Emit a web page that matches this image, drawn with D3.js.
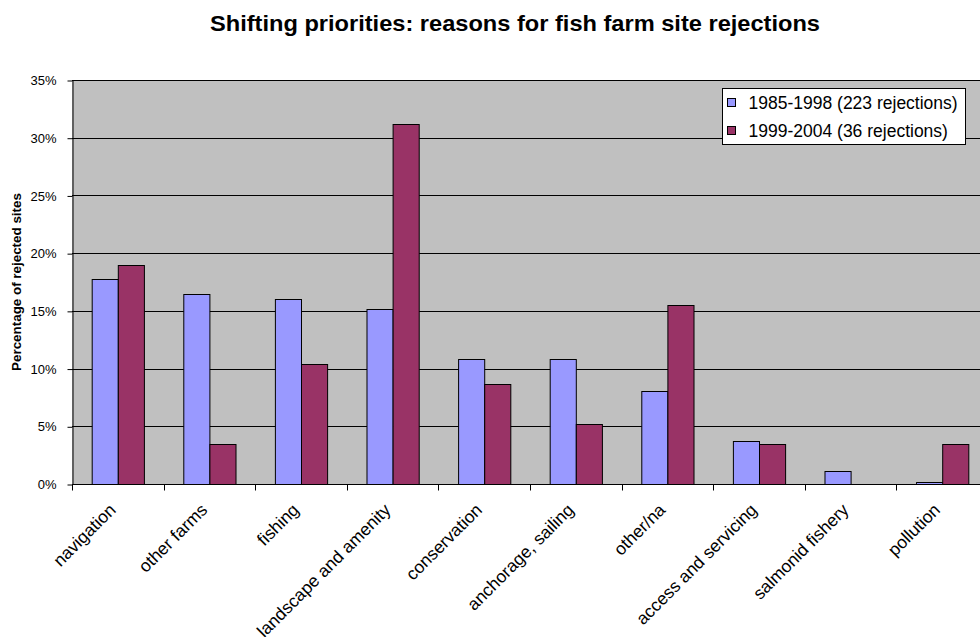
<!DOCTYPE html>
<html>
<head>
<meta charset="utf-8">
<script src="https://cdn.jsdelivr.net/npm/d3@7"></script>
<style>
  html, body { margin: 0; padding: 0; background: #fff; }
  svg { display: block; font-family: "Liberation Sans", Arial, sans-serif; }
</style>
</head>
<body>
<svg id="chart" width="980" height="637"></svg>
<script>
const categories = ["navigation", "other farms", "fishing", "landscape and amenity", "conservation",
  "anchorage, sailing", "other/na", "access and servicing", "salmonid fishery", "pollution"];
const seriesNames = ["1985-1998 (223 rejections)", "1999-2004 (36 rejections)"];
const early = [17.8, 16.5, 16.0, 15.2, 10.8, 10.8, 8.1, 3.7, 1.1, 0.2];
const late  = [19.0, 3.5, 10.4, 31.2, 8.7, 5.2, 15.5, 3.5, 0, 3.5];
const yTicks = [0, 5, 10, 15, 20, 25, 30, 35];
const colors = ["#9999FF", "#993366"];

const svg = d3.select("#chart");
const plot = { left: 72, right: 988, top: 80, bottom: 484 };

const x = d3.scaleBand().domain(categories).range([plot.left, plot.right]).paddingInner(0.43).paddingOuter(0.215);
const xOuter = d3.scaleBand().domain(categories).range([plot.left, plot.right]);
const xSub = d3.scaleBand().domain([0, 1]).range([0, x.bandwidth()]);
const y = d3.scaleLinear().domain([0, 35]).range([plot.bottom, plot.top]);

// Plot background
svg.append("rect")
  .attr("x", plot.left).attr("y", plot.top)
  .attr("width", plot.right - plot.left).attr("height", plot.bottom - plot.top)
  .attr("fill", "#C0C0C0");

// Horizontal gridlines
svg.append("g").selectAll("line").data(yTicks.filter(d => d > 0)).join("line")
  .attr("x1", plot.left).attr("x2", plot.right)
  .attr("y1", d => Math.round(y(d)) + 0.5).attr("y2", d => Math.round(y(d)) + 0.5)
  .attr("stroke", "#000").attr("stroke-width", 1);

// Bars
const series = [early, late];
const groups = svg.append("g").selectAll("g").data(categories).join("g")
  .attr("transform", d => `translate(${x(d)},0)`);
groups.selectAll("rect")
  .data((d, i) => series.map((s, k) => ({ k, v: s[i] })).filter(e => e.v > 0))
  .join("rect")
  .attr("x", e => xSub(e.k) + 0.5)
  .attr("width", xSub.bandwidth())
  .attr("y", e => Math.round(y(e.v)) + 0.5)
  .attr("height", e => Math.round(y(0)) - Math.round(y(e.v)))
  .attr("fill", e => colors[e.k])
  .attr("stroke", "#000").attr("stroke-width", 1);

// Y axis
const yAxis = svg.append("g")
  .attr("transform", `translate(${plot.left + 0.5},0.5)`)
  .call(d3.axisLeft(y).tickValues(yTicks).tickFormat(d => d + "%").tickSize(5).tickSizeOuter(0));
yAxis.select(".domain").attr("stroke", "#000");
yAxis.selectAll(".tick line").attr("stroke", "#000");
yAxis.selectAll(".tick text").attr("font-size", 13).attr("fill", "#000").attr("x", -16)
  .attr("font-family", "Liberation Sans, Arial, sans-serif");

// X axis baseline and category ticks
const xAxis = svg.append("g").attr("transform", `translate(0,${Math.round(y(0)) + 0.5})`);
xAxis.append("line").attr("x1", plot.left).attr("x2", plot.right).attr("stroke", "#000");
xAxis.selectAll("line.tk").data(categories).join("line").attr("class", "tk")
  .attr("x1", d => Math.round(xOuter(d)) + 0.5).attr("x2", d => Math.round(xOuter(d)) + 0.5)
  .attr("y1", 0).attr("y2", 6).attr("stroke", "#000");

// Rotated category labels
svg.append("g").selectAll("text").data(categories).join("text")
  .attr("transform", d => `translate(${x(d) + x.bandwidth() / 2 - 1},${plot.bottom + 27}) rotate(-45)`)
  .attr("text-anchor", "end")
  .attr("font-size", 17.5)
  .attr("fill", "#000")
  .text(d => d);

// Title
svg.append("text")
  .attr("x", 515).attr("y", 31)
  .attr("text-anchor", "middle")
  .attr("font-size", 22).attr("font-weight", "bold")
  .attr("textLength", 610).attr("lengthAdjust", "spacingAndGlyphs")
  .text("Shifting priorities: reasons for fish farm site rejections");

// Y axis title
svg.append("text")
  .attr("transform", `translate(21,282) rotate(-90)`)
  .attr("text-anchor", "middle")
  .attr("font-size", 13.4).attr("font-weight", "bold")
  .text("Percentage of rejected sites");

// Legend
const legend = svg.append("g").attr("transform", "translate(722.5,88.5)");
legend.append("rect").attr("width", 243).attr("height", 56)
  .attr("fill", "#fff").attr("stroke", "#000");
const items = legend.selectAll("g").data(seriesNames).join("g")
  .attr("transform", (d, i) => `translate(5,${14 + i * 28})`);
items.append("rect").attr("x", 0).attr("y", -4).attr("width", 8).attr("height", 8)
  .attr("fill", (d, i) => colors[i]).attr("stroke", "#000");
items.append("text").attr("x", 21).attr("y", 6).attr("font-size", 17.5).text(d => d);
</script>
</body>
</html>
